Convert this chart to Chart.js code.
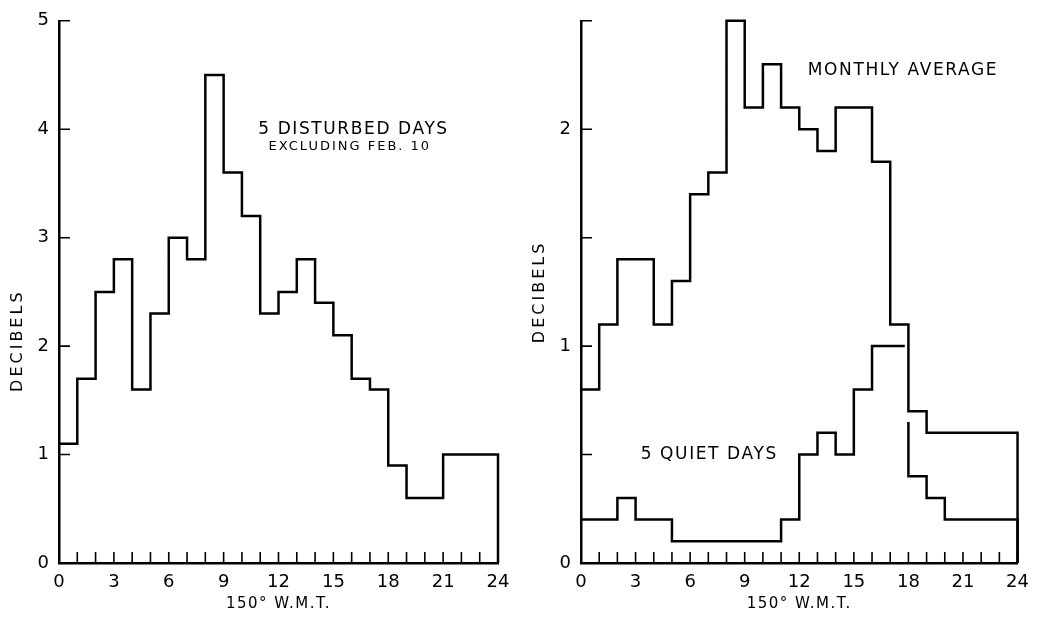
<!DOCTYPE html>
<html>
<head>
    <title>Decibels by hour, 150° W.M.T.</title>
    <script src="https://cdn.jsdelivr.net/npm/chart.js"></script>
    <style>
        body { margin: 0; background: #fff; }
        .wrap { display: flex; width: 1038px; height: 619px; }
        canvas { display: block; }
    </style>
</head>
<body>
    <div class="wrap">
        <canvas id="disturbed" width="519" height="619"></canvas>
        <canvas id="average" width="519" height="619"></canvas>
    </div>

    <script>
        // one value per hour, 0-1 ... 23-24 (150° W.M.T.)
        const disturbedDays = [1.1, 1.7, 2.5, 2.8, 1.6, 2.3, 3.0, 2.8, 4.5, 3.6, 3.2, 2.3,
                               2.5, 2.8, 2.4, 2.1, 1.7, 1.6, 0.9, 0.6, 0.6, 1.0, 1.0, 1.0];
        const monthlyAverage = [0.8, 1.1, 1.4, 1.4, 1.1, 1.3, 1.7, 1.8, 2.5, 2.1, 2.3, 2.1,
                                2.0, 1.9, 2.1, 2.1, 1.85, 1.1, 0.7, 0.6, 0.6, 0.6, 0.6, 0.6];
        const quietDays = [0.2, 0.2, 0.3, 0.2, 0.2, 0.1, 0.1, 0.1, 0.1, 0.1, 0.1, 0.2,
                           0.5, 0.6, 0.5, 0.8, 1.0, 1.0, 0.4, 0.3, 0.2, 0.2, 0.2, 0.2];
        const hourLabels = [0, 3, 6, 9, 12, 15, 18, 21, 24];
        const leftYLabels = [0, 1, 2, 3, 4, 5];
        const rightYLabels = [0, 1, 2];

        // the quiet-day trace is broken just before hour 18 where it meets the average
        const quietBreak = { hour: 18, lead: 0.2, restart: 0.65 };

        const FONT = '"DejaVu Sans", sans-serif';

        // histogram outline: x = start of hour, stepped so each value spans its hour
        function stepPoints(values, gap) {
            const pts = [];
            values.forEach((v, h) => {
                if (gap && h === gap.hour) {
                    pts.push({ x: h - gap.lead, y: values[h - 1] });
                    pts.push({ x: h - gap.lead / 2, y: null });
                    pts.push({ x: h, y: gap.restart });
                }
                pts.push({ x: h, y: v });
            });
            pts.push({ x: values.length, y: values[values.length - 1] });
            pts.push({ x: values.length, y: 0 });
            return pts;
        }

        const inwardTicks = {
            id: 'inwardTicks',
            afterDraw(chart, args, opts) {
                const { ctx, chartArea: a, scales: { x, y } } = chart;
                ctx.save();
                ctx.strokeStyle = '#000';
                ctx.lineWidth = 1.6;
                ctx.beginPath();
                x.ticks.forEach(t => {
                    const px = x.getPixelForValue(t.value);
                    ctx.moveTo(px, a.bottom);
                    ctx.lineTo(px, a.bottom - opts.length);
                });
                y.ticks.forEach(t => {
                    const py = y.getPixelForValue(t.value);
                    ctx.moveTo(a.left, py);
                    ctx.lineTo(a.left + opts.length, py);
                });
                ctx.stroke();
                ctx.restore();
            }
        };

        const notes = {
            id: 'notes',
            afterDraw(chart, args, opts) {
                const { ctx, chartArea: a, scales: { x, y } } = chart;
                ctx.save();
                ctx.fillStyle = '#000';
                ctx.textAlign = 'center';
                ctx.textBaseline = 'middle';
                opts.items.forEach(n => {
                    ctx.font = n.size + 'px ' + FONT;
                    ctx.letterSpacing = n.spacing + 'px';
                    ctx.fillText(n.text, x.getPixelForValue(n.x), y.getPixelForValue(n.y));
                });
                // x axis title
                ctx.font = '15px ' + FONT;
                ctx.letterSpacing = '1.5px';
                ctx.fillText('150° W.M.T.', (a.left + a.right) / 2, a.bottom + 41);
                // y axis title
                ctx.translate(a.left - 41, y.getPixelForValue(opts.yTitleAt));
                ctx.rotate(-Math.PI / 2);
                ctx.font = '16px ' + FONT;
                ctx.letterSpacing = '3px';
                ctx.fillText('DECIBELS', 0, 0);
                ctx.restore();
            }
        };

        function makeChart(id, datasets, yMax, yStep, yLabels, yWidth, padRight, noteItems, yTitleAt) {
            return new Chart(document.getElementById(id), {
                type: 'line',
                data: {
                    datasets: datasets.map(d => ({
                        data: d,
                        borderColor: '#000',
                        borderWidth: 2.5,
                        borderJoinStyle: 'miter',
                        stepped: 'before',
                        pointRadius: 0,
                        fill: false,
                        spanGaps: false,
                        clip: 6
                    }))
                },
                options: {
                    responsive: false,
                    animation: false,
                    layout: { padding: { top: 14, right: padRight, bottom: 0, left: 0 } },
                    plugins: {
                        legend: { display: false },
                        tooltip: { enabled: false },
                        inwardTicks: { length: 11 },
                        notes: { items: noteItems, yTitleAt: yTitleAt }
                    },
                    scales: {
                        x: {
                            type: 'linear',
                            min: 0,
                            max: 24,
                            grid: { display: false, drawTicks: false, tickLength: 0 },
                            border: { display: true, color: '#000', width: 2.5 },
                            ticks: {
                                stepSize: 1,
                                autoSkip: false,
                                maxRotation: 0,
                                padding: 9,
                                color: '#000',
                                font: { family: FONT, size: 18 },
                                callback: v => hourLabels.includes(v) ? String(v) : ''
                            },
                            afterFit: s => { s.height = 56; }
                        },
                        y: {
                            min: 0,
                            max: yMax,
                            grid: { display: false, drawTicks: false, tickLength: 0 },
                            border: { display: true, color: '#000', width: 2.5 },
                            ticks: {
                                stepSize: yStep,
                                padding: 10,
                                color: '#000',
                                font: { family: FONT, size: 18 },
                                callback: v => yLabels.includes(v) ? String(v) : ''
                            },
                            afterFit: s => { s.width = yWidth; }
                        }
                    }
                },
                plugins: [inwardTicks, notes]
            });
        }

        makeChart('disturbed', [stepPoints(disturbedDays)], 5, 1, leftYLabels, 59, 21, [
            { text: '5 DISTURBED DAYS', x: 16.1, y: 4.0, size: 17, spacing: 1.6 },
            { text: 'EXCLUDING FEB. 10', x: 15.9, y: 3.84, size: 13, spacing: 2 }
        ], 2.05);

        makeChart('average', [stepPoints(monthlyAverage), stepPoints(quietDays, quietBreak)], 2.5, 0.5, rightYLabels, 62, 18, [
            { text: 'MONTHLY AVERAGE', x: 17.7, y: 2.27, size: 17, spacing: 1.6 },
            { text: '5 QUIET DAYS', x: 7.05, y: 0.5, size: 17, spacing: 1.6 }
        ], 1.25);
    </script>
</body>
</html>
